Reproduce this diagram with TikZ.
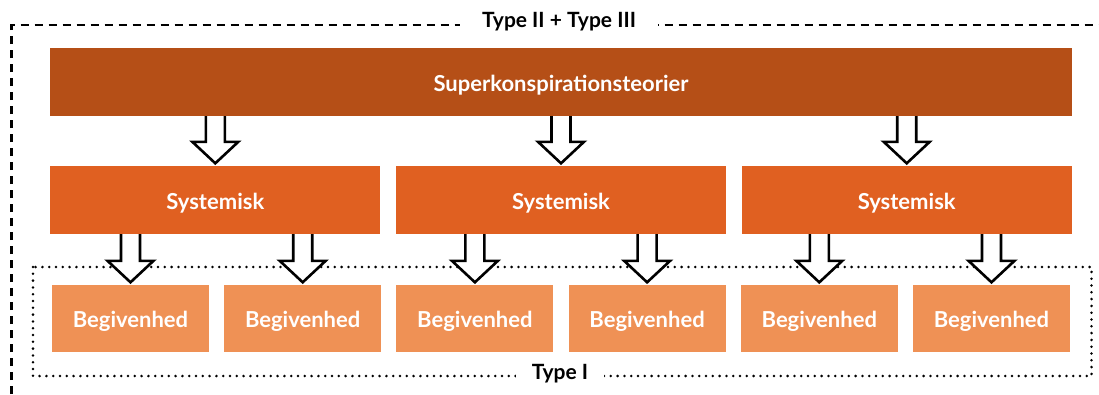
\documentclass[tikz,border=0pt]{standalone}
\usepackage{fontspec}
\setmainfont{Lato}
\usetikzlibrary{calc}
\definecolor{cSup}{HTML}{B54F17}
\definecolor{cSys}{HTML}{E06021}
\definecolor{cBeg}{HTML}{EF9155}
\tikzset{
  box/.style={rectangle, draw=none, text=white, font=\fontsize{22}{26}\selectfont\bfseries, inner sep=0pt, text height=18pt, text depth=0pt},
  supbox/.style={box, fill=cSup, minimum width=1022pt, minimum height=68pt},
  sysbox/.style={box, fill=cSys, minimum width=330pt, minimum height=68pt},
  begbox/.style={box, fill=cBeg, minimum width=157pt, minimum height=67pt},
  barrowstyle/.style={draw=black, fill=white, line width=2.6pt, line join=miter},
  framelabel/.style={fill=white, text=black, font=\fontsize{21}{24}\selectfont\bfseries, inner ysep=2pt},
}
\newcommand\blockarrow[2]{%
  \path[barrowstyle] let \p1=(#2.north), \p2=(#1.south) in
    (\x1-9.5pt,\y2) -- (\x1-9.5pt,\y1+24pt) -- (\x1-23pt,\y1+24pt) -- (\x1,\y1+2.5pt)
    -- (\x1+23pt,\y1+24pt) -- (\x1+9.5pt,\y1+24pt) -- (\x1+9.5pt,\y2);}
\begin{document}
\begin{tikzpicture}[x=1pt,y=-1pt]
\useasboundingbox (0,0) rectangle (1099,394);
% frames
\coordinate (dbl) at (11.5,394);
\coordinate (dtl) at (11.5,25);
\coordinate (dtr) at (1099,25);
\draw[line width=2.5pt, dash pattern=on 8pt off 6pt] (dbl) -- (dtl) -- (dtr);
\draw[line width=2.8pt, line cap=round, dash pattern=on 0pt off 6.8pt] (33,267) rectangle (1091.5,376);
\node[framelabel, inner xsep=22pt] (lab2) at (559,22) {Type II + Type III};
\node[framelabel, inner xsep=16pt] (lab1) at (560,374) {Type I};
% boxes
\node[supbox] (sup) at (561,82) {Superkonspirationsteorier};
\node[sysbox] (s1) at (215.3,200) {Systemisk};
\node[sysbox] (s2) at (561,200) {Systemisk};
\node[sysbox] (s3) at (906.7,200) {Systemisk};
\foreach \i/\x in {1/130.5,2/302.7,3/474.9,4/647.1,5/819.3,6/991.5}{
  \node[begbox] (b\i) at (\x,318.5) {Begivenhed};
}
% arrows
\blockarrow{sup}{s1}
\blockarrow{sup}{s2}
\blockarrow{sup}{s3}
\blockarrow{s1}{b1}
\blockarrow{s1}{b2}
\blockarrow{s2}{b3}
\blockarrow{s2}{b4}
\blockarrow{s3}{b5}
\blockarrow{s3}{b6}
\end{tikzpicture}
\end{document}
